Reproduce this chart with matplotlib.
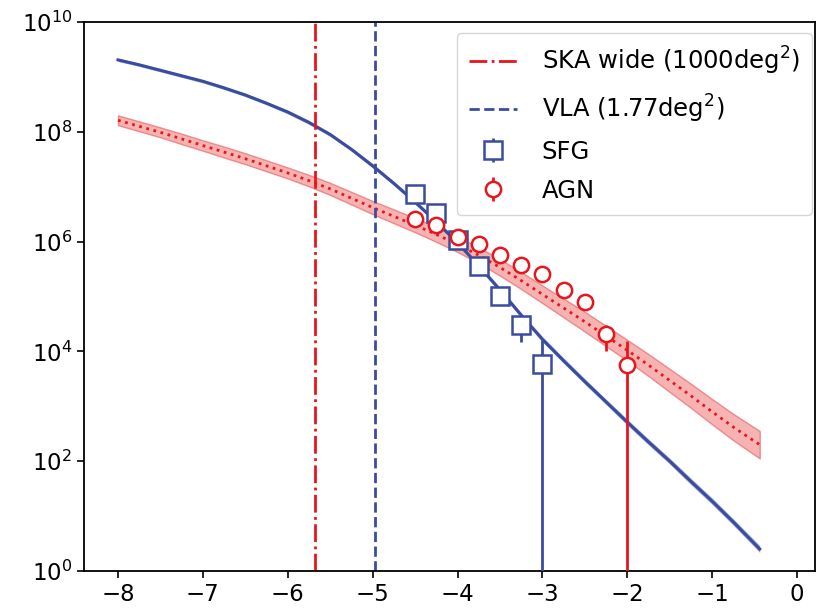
import numpy as np
import matplotlib
matplotlib.use("Agg")
import matplotlib.pyplot as plt

# ---- data ----
sfg_x = [-4.5, -4.25, -4.0, -3.75, -3.5, -3.25, -3.0]
sfg_y = [7.4e6, 3.3e6, 1.07e6, 3.6e5, 1.0e5, 3.0e4, 5.8e3]
sfg_err_lo = [0.6e6, 0.3e6, 0.1e6, 0.3e5, 0.1e5, 1.5e4, 5.8e3]
sfg_err_hi = [1.0e6, 0.3e6, 0.1e6, 0.3e5, 0.1e5, 0.5e4, 1.0e4]

agn_x = [-4.5, -4.25, -4.0, -3.75, -3.5, -3.25, -3.0, -2.75, -2.5, -2.25, -2.0]
agn_y = [2.6e6, 2.0e6, 1.2e6, 8.9e5, 5.8e5, 3.7e5, 2.6e5, 1.3e5, 7.8e4, 2.1e4, 5.6e3]
agn_err_lo = [0.2e6, 0.15e6, 0.1e6, 0.6e5, 0.4e5, 0.3e5, 0.2e5, 0.1e5, 0.6e4, 1.1e4, 5.6e3]
agn_err_hi = [0.2e6, 0.15e6, 0.1e6, 0.6e5, 0.4e5, 0.3e5, 0.2e5, 0.1e5, 0.6e4, 0.9e4, 1.0e4]

model_x = [-8.0, -7.75, -7.5, -7.25, -7.0, -6.75, -6.5, -6.25, -6.0, -5.75, -5.5,
           -5.25, -5.0, -4.75, -4.5, -4.25, -4.0, -3.75, -3.5, -3.25, -3.0,
           -2.75, -2.5, -2.25, -2.0, -1.75, -1.5, -1.25, -1.0, -0.75, -0.44]
sfg_model_log = [9.31, 9.22, 9.12, 9.02, 8.92, 8.80, 8.67, 8.52, 8.36, 8.17, 7.95,
                 7.68, 7.38, 7.06, 6.72, 6.36, 5.98, 5.56, 5.12, 4.66, 4.22,
                 3.83, 3.45, 3.08, 2.71, 2.35, 2.00, 1.63, 1.27, 0.89, 0.40]
sfg_band_dex = [0.03, 0.03, 0.03, 0.03, 0.03, 0.03, 0.03, 0.03, 0.035, 0.035, 0.035,
                0.035, 0.04, 0.04, 0.04, 0.04, 0.045, 0.045, 0.045, 0.045, 0.05,
                0.05, 0.05, 0.05, 0.055, 0.055, 0.055, 0.06, 0.06, 0.06, 0.065]
agn_model_log = [8.21, 8.10, 7.99, 7.87, 7.75, 7.63, 7.51, 7.38, 7.25, 7.11, 6.96,
                 6.79, 6.62, 6.46, 6.30, 6.13, 5.95, 5.75, 5.53, 5.29, 5.04,
                 4.79, 4.54, 4.28, 4.02, 3.75, 3.47, 3.19, 2.90, 2.62, 2.30]
agn_band_dex = [0.09, 0.09, 0.09, 0.095, 0.095, 0.10, 0.10, 0.10, 0.10, 0.105, 0.11,
                0.115, 0.12, 0.125, 0.13, 0.135, 0.14, 0.145, 0.15, 0.155, 0.16,
                0.17, 0.18, 0.185, 0.19, 0.20, 0.21, 0.22, 0.23, 0.24, 0.25]

ska_limit = -5.68
vla_limit = -4.97

xticks = [-8, -7, -6, -5, -4, -3, -2, -1, 0]
yticks = [1e0, 1e2, 1e4, 1e6, 1e8, 1e10]

BLUE = "#3a4ca0"
RED = "#e8161c"

plt.rcParams['font.family'] = ['DejaVu Sans']
fig = plt.figure(figsize=(8.19, 6.11), dpi=100)
ax = fig.add_axes([0.1026, 0.0655, 0.8924, 0.8985])

mx = np.array(model_x)
s_log = np.array(sfg_model_log)
s_b = np.array(sfg_band_dex)
a_log = np.array(agn_model_log)
a_b = np.array(agn_band_dex)

# SFG model
ax.fill_between(mx, 10 ** (s_log - s_b), 10 ** (s_log + s_b), color=BLUE, alpha=0.45, lw=0)
ax.plot(mx, 10 ** s_log, color=BLUE, lw=2.2)

# AGN model
ax.fill_between(mx, 10 ** (a_log - a_b), 10 ** (a_log + a_b), facecolor=(0.95, 0.45, 0.45, 0.55),
                edgecolor=(0.9, 0.35, 0.35, 0.6), lw=1)
ax.plot(mx, 10 ** a_log, color=RED, lw=2, ls=':')

# survey limits
ax.axvline(ska_limit, color=RED, lw=2, ls='-.', label='SKA wide (1000deg$^2$)')
ax.axvline(vla_limit, color=BLUE, lw=2, ls='--', label='VLA (1.77deg$^2$)')

# data
ax.errorbar(sfg_x, sfg_y, yerr=[sfg_err_lo, sfg_err_hi], fmt='s', ms=13, mfc='white',
            mec=BLUE, mew=1.8, ecolor=BLUE, elinewidth=2, capsize=0, label='SFG', zorder=5)
ax.errorbar(agn_x, agn_y, yerr=[agn_err_lo, agn_err_hi], fmt='o', ms=11, mfc='white',
            mec=RED, mew=1.8, ecolor=RED, elinewidth=2, capsize=0, label='AGN', zorder=6)

ax.set_yscale('log')
ax.set_xlim(-8.4, 0.21)
ax.set_ylim(1e0, 1e10)
ax.set_xticks(xticks)
ax.set_yticks(yticks)
ax.minorticks_off()
ax.yaxis.set_minor_locator(matplotlib.ticker.NullLocator())
ax.tick_params(labelsize=16.5, length=5, width=1.2)
for s in ax.spines.values():
    s.set_linewidth(1.3)

ax.legend(loc='upper right', bbox_to_anchor=(0.996, 0.98), borderaxespad=0,
          fontsize=17.5, frameon=True, handlelength=2.0, handletextpad=1.0,
          labelspacing=0.62, borderpad=0.5)

fig.savefig("out.png", dpi=100)
